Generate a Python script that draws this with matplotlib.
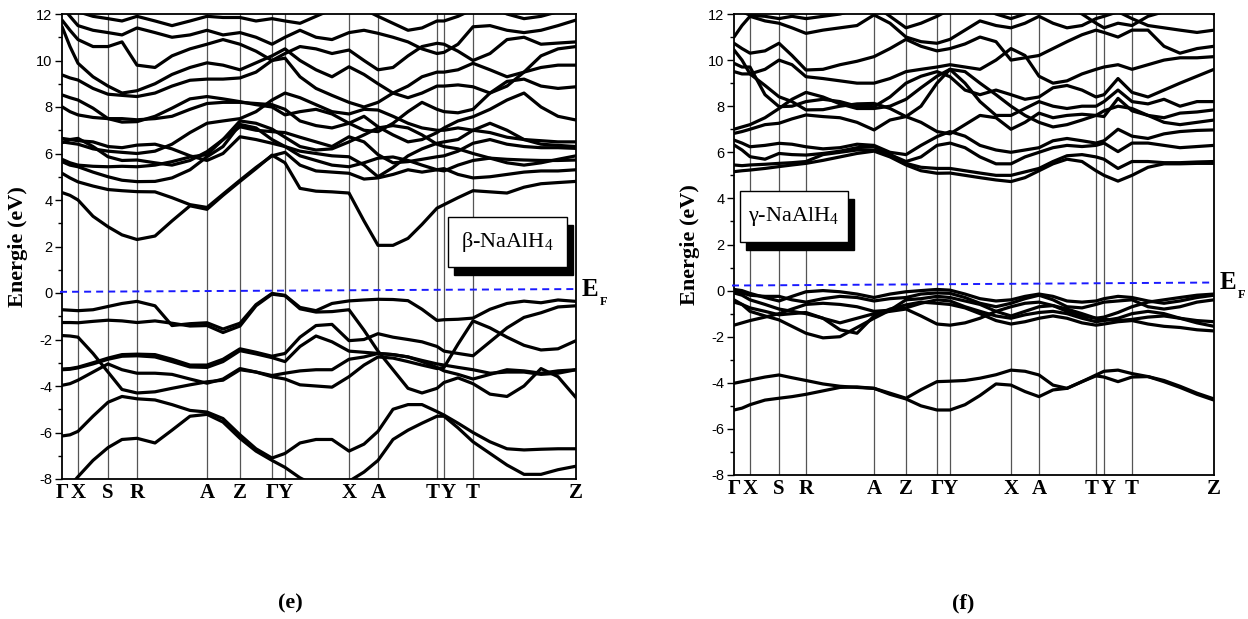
import matplotlib
matplotlib.use("Agg")
import matplotlib.pyplot as plt
from matplotlib.patches import Rectangle

plt.rcParams['mathtext.fontset'] = 'custom'
plt.rcParams['mathtext.rm'] = 'Liberation Serif'
plt.rcParams['mathtext.bf'] = 'Liberation Serif:bold'

SERIF = 'Liberation Serif'
SANS = 'Liberation Sans'

# ---------------- data ----------------
SYM_LABELS = ['Γ', 'X', 'S', 'R', 'A', 'Z', 'Γ', 'Y', 'X', 'A', 'T', 'Y', 'T', 'Z']

# beta panel: high-symmetry positions along k-path and sampling nodes
SYM_L = [0, 16, 46, 75, 145, 178, 210, 223, 287, 316, 375, 382, 411, 514]
K_L = [0, 8, 16, 31, 46, 60, 75, 93, 110, 128, 145, 161, 178, 194, 210, 223, 238, 254,
       270, 287, 302, 316, 331, 346, 360, 375, 382, 396, 411, 428, 445, 462, 479, 496, 514]
EF_L = [0.05, 0.17]

V1_L = [-0.72, -0.74, -0.76, -0.72, -0.58, -0.45, -0.36, -0.55, -1.4, -1.32, -1.28, -1.55, -1.3, -0.5, -0.02, -0.1, -0.62, -0.76, -0.45, -0.34, -0.3, -0.27, -0.28, -0.33, -0.7, -1.18, -1.15, -1.13, -1.08, -0.7, -0.45, -0.35, -0.42, -0.3, -0.36]
V2_L = [-1.27, -1.27, -1.28, -1.22, -1.17, -1.2, -1.27, -1.2, -1.3, -1.42, -1.4, -1.7, -1.42, -0.55, -0.05, -0.12, -0.68, -0.82, -0.8, -0.72, -1.6, -2.5, -3.3, -4.1, -4.3, -4.1, -3.85, -3.65, -3.9, -4.35, -4.45, -4.0, -3.25, -3.6, -4.5]
V3_L = [-1.83, -1.85, -1.9, -2.6, -3.4, -4.15, -4.3, -4.25, -4.1, -3.95, -3.82, -3.75, -3.3, -3.4, -3.6, -3.7, -3.95, -4.0, -4.05, -3.6, -3.1, -2.75, -2.8, -2.95, -3.1, -3.25, -3.2, -2.2, -1.2, -1.5, -1.9, -2.25, -2.45, -2.4, -2.05]
V4_L = [-3.27, -3.25, -3.19, -3.0, -2.8, -2.65, -2.63, -2.65, -2.85, -3.1, -3.1, -2.85, -2.4, -2.55, -2.72, -2.6, -1.9, -1.4, -1.35, -2.05, -2.0, -1.75, -1.9, -2.0, -2.1, -2.3, -2.5, -2.6, -2.7, -2.1, -1.5, -1.05, -0.85, -0.6, -0.55]
V5_L = [-3.97, -3.9, -3.75, -3.4, -3.05, -3.3, -3.45, -3.45, -3.5, -3.7, -3.88, -3.7, -3.25, -3.4, -3.55, -3.45, -3.35, -3.3, -3.3, -2.85, -2.75, -2.6, -2.65, -2.75, -2.95, -3.2, -3.35, -3.5, -3.7, -3.5, -3.3, -3.35, -3.45, -3.35, -3.3]
V6_L = [-6.15, -6.1, -5.95, -5.3, -4.7, -4.45, -4.55, -4.6, -4.8, -5.05, -5.12, -5.4, -6.1, -6.7, -7.1, -6.9, -6.45, -6.3, -6.3, -6.8, -6.5, -5.95, -5.0, -4.8, -4.8, -5.1, -5.25, -5.6, -6.0, -6.4, -6.7, -6.75, -6.72, -6.7, -6.7]
V7_L = [-8.6, -8.3, -7.9, -7.2, -6.65, -6.3, -6.25, -6.45, -5.9, -5.3, -5.22, -5.55, -6.25, -6.8, -7.2, -7.5, -7.95, -8.3, -8.4, -8.1, -7.7, -7.2, -6.3, -5.9, -5.6, -5.3, -5.3, -5.8, -6.4, -6.9, -7.4, -7.8, -7.8, -7.6, -7.45]
V8_L = [-3.3, -3.28, -3.22, -3.05, -2.85, -2.72, -2.7, -2.75, -2.95, -3.18, -3.2, -2.95, -2.48, -2.62, -2.78, -2.95, -2.3, -1.85, -2.1, -2.5, -2.55, -2.6, -2.65, -2.75, -2.9, -3.05, -3.1, -3.2, -3.3, -3.45, -3.4, -3.4, -3.5, -3.45, -3.3]

C1_L = [4.32, 4.2, 4.0, 3.3, 2.85, 2.5, 2.3, 2.45, 3.1, 3.75, 3.6, 4.2, 4.8, 5.35, 5.93, 5.6, 4.5, 4.38, 4.35, 4.3, 3.1, 2.05, 2.05, 2.35, 2.95, 3.65, 3.8, 4.1, 4.4, 4.35, 4.3, 4.55, 4.7, 4.75, 4.8]
C2_L = [5.15, 4.95, 4.78, 4.6, 4.45, 4.4, 4.36, 4.35, 4.1, 3.8, 3.68, 4.25, 4.85, 5.4, 5.9, 6.05, 5.5, 5.25, 5.2, 5.15, 4.9, 4.95, 5.1, 5.3, 5.2, 5.3, 5.35, 5.1, 4.95, 5.0, 5.1, 5.2, 5.25, 5.25, 5.3]
C3_L = [5.65, 5.5, 5.43, 5.2, 5.0, 4.85, 4.79, 4.8, 4.95, 5.3, 5.86, 6.3, 7.25, 7.1, 6.6, 6.3, 5.9, 5.7, 5.5, 5.43, 5.6, 5.8, 5.85, 5.7, 5.5, 5.3, 5.25, 5.5, 5.7, 5.8, 5.75, 5.72, 5.7, 5.7, 5.72]
C4_L = [6.46, 6.6, 6.65, 6.3, 5.86, 5.7, 5.72, 5.6, 5.5, 5.7, 6.08, 6.6, 7.15, 7.0, 6.94, 6.9, 6.7, 6.5, 6.3, 6.72, 6.5, 5.95, 5.6, 5.65, 5.75, 5.86, 5.9, 6.1, 6.44, 6.6, 6.4, 6.3, 6.25, 6.25, 6.22]
C5_L = [6.65, 6.6, 6.55, 6.5, 6.3, 6.25, 6.36, 6.4, 6.2, 5.9, 5.7, 6.0, 6.72, 6.6, 6.44, 6.3, 6.1, 6.0, 5.9, 5.86, 5.5, 5.0, 5.4, 5.9, 6.2, 6.44, 6.5, 6.6, 7.0, 7.3, 7.0, 6.6, 6.4, 6.35, 6.3]
C6_L = [8.01, 7.8, 7.66, 7.55, 7.5, 7.5, 7.45, 7.5, 7.6, 7.9, 8.15, 8.2, 8.2, 8.15, 8.1, 7.9, 7.4, 7.2, 7.1, 7.3, 7.6, 7.15, 6.8, 6.5, 6.6, 6.9, 7.1, 7.4, 7.58, 7.9, 8.3, 8.6, 8.0, 7.6, 7.44]
C7_L = [8.52, 8.4, 8.3, 7.95, 7.5, 7.35, 7.37, 7.6, 7.95, 8.35, 8.45, 8.35, 8.23, 8.1, 8.0, 7.66, 7.8, 7.9, 7.7, 7.3, 7.0, 6.94, 7.3, 7.8, 8.2, 7.9, 7.8, 7.75, 7.9, 8.6, 9.1, 9.2, 8.9, 8.8, 8.87]
C8_L = [9.38, 9.25, 9.16, 8.8, 8.55, 8.5, 8.45, 8.6, 8.9, 9.15, 9.2, 9.2, 9.25, 9.5, 10.0, 10.1, 9.3, 8.8, 8.5, 8.2, 8.0, 8.2, 8.6, 8.9, 9.3, 9.5, 9.5, 9.6, 9.88, 9.6, 9.3, 9.5, 9.7, 9.8, 9.8]
C9_L = [11.46, 10.6, 9.88, 9.3, 8.9, 8.6, 8.7, 9.0, 9.4, 9.7, 9.9, 9.8, 9.6, 9.9, 10.2, 10.5, 10.0, 9.6, 9.3, 9.73, 9.4, 9.0, 8.6, 8.4, 8.6, 8.9, 8.9, 8.95, 8.87, 8.6, 8.9, 9.5, 10.2, 10.5, 10.6]
C10_L = [11.74, 11.3, 10.9, 10.6, 10.6, 10.8, 9.8, 9.7, 10.2, 10.5, 10.7, 10.9, 10.7, 10.4, 10.0, 10.3, 10.6, 10.5, 10.3, 10.45, 10.0, 9.6, 9.7, 10.2, 10.6, 10.74, 10.7, 10.4, 10.0, 10.3, 10.9, 11.0, 10.7, 10.75, 10.8]
C11_L = [12.3, 11.9, 11.5, 11.3, 11.2, 11.1, 11.4, 11.2, 11.0, 11.1, 11.3, 11.1, 11.2, 11.0, 10.7, 11.0, 11.3, 11.0, 10.9, 11.2, 11.3, 11.17, 11.0, 10.8, 10.5, 10.3, 10.35, 10.7, 11.45, 11.5, 11.3, 11.2, 11.3, 11.5, 11.74]
C12_L = [12.6, 12.4, 12.1, 11.9, 11.8, 11.7, 11.9, 11.7, 11.5, 11.7, 11.9, 11.85, 11.85, 11.7, 11.8, 11.7, 11.6, 11.9, 12.2, 12.4, 12.2, 11.9, 11.6, 11.3, 11.4, 11.7, 11.7, 11.9, 12.2, 12.3, 12.0, 11.8, 11.9, 12.1, 12.2]
C13_L = [5.75, 5.6, 5.5, 5.45, 5.43, 5.45, 5.43, 5.5, 5.65, 5.85, 5.95, 6.6, 7.4, 7.3, 7.05, 6.7, 6.3, 6.15, 6.2, 6.5, 6.8, 7.1, 7.2, 7.1, 6.8, 6.4, 6.3, 6.2, 6.0, 5.8, 5.6, 5.5, 5.6, 5.75, 5.9]
C14_L = [6.5, 6.45, 6.4, 6.2, 6.1, 6.05, 6.0, 6.1, 6.4, 6.9, 7.3, 7.4, 7.5, 7.8, 8.3, 8.6, 8.4, 8.1, 7.8, 7.7, 7.9, 7.87, 7.6, 7.3, 7.1, 7.0, 7.0, 7.1, 7.0, 6.9, 6.7, 6.6, 6.55, 6.5, 6.5]

# gamma panel
SYM_R = [0, 16, 45, 72, 140, 172, 203, 216, 277, 305, 362, 370, 398, 480]
K_R = [0, 8, 16, 31, 45, 58, 72, 89, 106, 123, 140, 156, 172, 187, 203, 216, 231, 246,
       262, 277, 291, 305, 319, 333, 348, 362, 370, 384, 398, 414, 430, 446, 463, 480]
EF_R = [0.22, 0.35]

V1_R = [0.05, 0.0, -0.12, -0.3, -0.45, -0.25, -0.05, 0.0, -0.05, -0.15, -0.3, -0.15, -0.05, 0.0, 0.05, 0.02, -0.15, -0.35, -0.45, -0.4, -0.25, -0.15, -0.25, -0.45, -0.5, -0.45, -0.35, -0.25, -0.3, -0.45, -0.55, -0.45, -0.3, -0.2]
V2_R = [-0.05, -0.1, -0.2, -0.25, -0.25, -0.4, -0.5, -0.35, -0.25, -0.3, -0.45, -0.35, -0.3, -0.15, -0.1, -0.12, -0.3, -0.55, -0.7, -0.55, -0.35, -0.2, -0.4, -0.7, -0.75, -0.6, -0.5, -0.45, -0.4, -0.7, -0.8, -0.7, -0.5, -0.4]
V3_R = [-0.4, -0.6, -0.9, -1.1, -1.27, -1.55, -1.85, -2.05, -2.0, -1.6, -1.2, -0.85, -0.75, -0.55, -0.4, -0.45, -0.7, -0.9, -1.1, -1.2, -1.05, -0.95, -0.9, -1.0, -1.2, -1.35, -1.3, -1.2, -1.0, -0.9, -1.0, -1.2, -1.3, -1.35]
V4_R = [-0.5, -0.6, -0.75, -0.9, -1.05, -1.0, -0.95, -1.2, -1.7, -1.85, -1.1, -0.8, -0.62, -0.5, -0.55, -0.6, -0.75, -1.0, -1.3, -1.45, -1.35, -1.2, -1.1, -1.2, -1.4, -1.5, -1.45, -1.35, -1.3, -1.45, -1.55, -1.6, -1.7, -1.75]
V5_R = [-1.5, -1.4, -1.3, -1.15, -1.0, -0.8, -0.6, -0.55, -0.6, -0.7, -0.9, -0.85, -0.4, -0.35, -0.25, -0.3, -0.45, -0.6, -0.9, -1.1, -0.9, -0.7, -0.65, -0.8, -1.0, -1.2, -1.25, -1.3, -1.25, -1.15, -1.1, -1.2, -1.4, -1.55]
V6_R = [-0.1, -0.2, -0.4, -0.6, -0.8, -0.9, -1.0, -1.2, -1.4, -1.2, -1.0, -0.9, -0.8, -1.1, -1.45, -1.5, -1.4, -1.2, -0.9, -0.7, -0.55, -0.5, -0.65, -0.9, -1.1, -1.2, -1.15, -0.95, -0.7, -0.5, -0.4, -0.3, -0.2, -0.15]
V7_R = [-4.02, -3.95, -3.88, -3.75, -3.66, -3.78, -3.9, -4.05, -4.15, -4.2, -4.24, -4.45, -4.67, -4.3, -3.95, -3.93, -3.9, -3.8, -3.65, -3.45, -3.5, -3.66, -4.1, -4.24, -3.95, -3.66, -3.5, -3.45, -3.6, -3.73, -3.9, -4.15, -4.45, -4.7]
V8_R = [-5.18, -5.1, -4.95, -4.75, -4.67, -4.6, -4.5, -4.35, -4.2, -4.18, -4.24, -4.5, -4.7, -5.0, -5.18, -5.18, -4.95, -4.55, -4.05, -4.1, -4.38, -4.6, -4.31, -4.24, -3.95, -3.7, -3.75, -3.95, -3.75, -3.73, -3.95, -4.2, -4.5, -4.75]

C1_R = [5.16, 5.2, 5.23, 5.3, 5.38, 5.45, 5.52, 5.65, 5.8, 5.95, 6.05, 5.8, 5.45, 5.2, 5.09, 5.1, 5.0, 4.9, 4.8, 4.73, 4.9, 5.2, 5.5, 5.7, 5.6, 5.2, 5.0, 4.75, 5.0, 5.35, 5.5, 5.5, 5.52, 5.52]
C2_R = [5.45, 5.42, 5.45, 5.48, 5.52, 5.55, 5.6, 5.9, 6.0, 6.1, 6.1, 5.9, 5.52, 5.35, 5.3, 5.3, 5.2, 5.1, 5.0, 5.0, 5.15, 5.3, 5.6, 5.85, 5.9, 5.8, 5.7, 5.3, 5.6, 5.6, 5.55, 5.55, 5.58, 5.6]
C3_R = [6.32, 6.1, 5.81, 5.7, 5.95, 5.9, 5.88, 5.95, 6.05, 6.2, 6.25, 5.9, 5.6, 5.8, 6.3, 6.4, 6.2, 5.8, 5.5, 5.5, 5.8, 6.0, 6.2, 6.3, 6.25, 6.3, 6.4, 6.03, 6.4, 6.4, 6.3, 6.2, 6.25, 6.3]
C4_R = [6.53, 6.4, 6.24, 6.3, 6.39, 6.35, 6.24, 6.15, 6.2, 6.35, 6.3, 6.0, 5.9, 6.3, 6.68, 6.9, 6.7, 6.3, 6.1, 6.0, 6.1, 6.2, 6.5, 6.6, 6.5, 6.4, 6.5, 7.0, 6.7, 6.6, 6.8, 6.9, 6.95, 6.97]
C5_R = [6.82, 6.9, 7.0, 7.2, 7.26, 7.45, 7.62, 7.55, 7.5, 7.3, 6.97, 7.4, 7.55, 7.3, 6.9, 6.8, 7.2, 7.6, 7.5, 7.0, 7.3, 7.7, 7.5, 7.6, 7.65, 7.6, 7.55, 8.34, 7.8, 7.6, 7.5, 7.7, 7.75, 7.84]
C6_R = [9.5, 9.4, 9.4, 8.9, 8.41, 8.2, 7.84, 7.85, 8.0, 8.1, 8.12, 7.9, 7.55, 8.0, 9.0, 9.6, 9.0, 8.2, 7.6, 7.6, 7.9, 8.2, 8.0, 7.9, 8.0, 8.0, 8.2, 8.7, 8.2, 8.1, 8.3, 8.0, 8.2, 8.2]
C7_R = [9.86, 9.7, 9.7, 8.5, 7.98, 8.0, 8.2, 8.3, 8.2, 8.0, 7.98, 8.4, 9.0, 9.3, 9.5, 9.28, 8.7, 8.5, 8.7, 8.5, 8.3, 8.4, 8.8, 8.9, 8.7, 8.4, 8.5, 9.2, 8.6, 8.4, 8.7, 9.0, 9.3, 9.6]
C8_R = [10.44, 10.0, 9.4, 9.6, 10.0, 9.8, 9.28, 9.2, 9.1, 9.0, 9.0, 9.2, 9.5, 9.6, 9.7, 9.8, 9.7, 9.6, 10.0, 10.5, 10.2, 9.3, 9.0, 9.1, 9.4, 9.6, 9.7, 9.8, 9.6, 9.8, 10.0, 10.1, 10.1, 10.15]
C9_R = [10.73, 10.5, 10.3, 10.4, 10.73, 10.2, 9.57, 9.6, 9.8, 9.95, 10.15, 10.5, 10.9, 10.6, 10.4, 10.5, 10.7, 11.0, 10.8, 10.0, 10.1, 10.2, 10.5, 10.8, 11.1, 11.3, 11.2, 11.0, 11.3, 11.3, 10.6, 10.3, 10.5, 10.6]
C10_R = [11.0, 11.5, 11.9, 11.7, 11.6, 11.4, 11.16, 11.3, 11.4, 11.5, 11.96, 11.6, 11.0, 10.8, 10.73, 10.9, 11.3, 11.7, 11.5, 11.4, 11.6, 11.9, 11.6, 11.4, 11.5, 11.8, 11.9, 12.1, 11.8, 11.5, 11.4, 11.3, 11.2, 11.3]
C11_R = [12.3, 12.1, 11.95, 11.9, 11.8, 11.9, 11.8, 11.9, 12.0, 12.2, 12.4, 11.9, 11.4, 11.6, 11.9, 12.2, 12.4, 12.3, 12.0, 11.8, 12.0, 12.3, 12.5, 12.3, 12.0, 11.6, 11.4, 11.6, 11.5, 11.9, 12.1, 12.2, 12.3, 12.0]
C12_R = [7.0, 7.1, 7.2, 7.5, 7.9, 8.3, 8.6, 8.4, 8.1, 7.9, 7.9, 8.0, 8.3, 8.8, 9.3, 9.6, 9.5, 9.0, 8.5, 8.0, 7.6, 7.3, 7.1, 7.2, 7.4, 7.6, 7.8, 8.0, 7.9, 7.6, 7.3, 7.2, 7.3, 7.4]

BANDS_L = [V1_L, V2_L, V3_L, V4_L, V5_L, V6_L, V7_L, V8_L,
           C1_L, C2_L, C3_L, C4_L, C5_L, C6_L, C7_L, C8_L, C9_L, C10_L, C11_L, C12_L, C13_L, C14_L]
BANDS_R = [V1_R, V2_R, V3_R, V4_R, V5_R, V6_R, V7_R, V8_R,
           C1_R, C2_R, C3_R, C4_R, C5_R, C6_R, C7_R, C8_R, C9_R, C10_R, C11_R, C12_R]

PHASES = ['β-NaAlH', 'γ-NaAlH']
CAPTIONS = ['(e)', '(f)']

# ---------------- figure ----------------
W, H = 1248, 619
fig = plt.figure(figsize=(W / 100, H / 100), dpi=100)


def fx(px):
    return px / W


def fy(py):
    return 1 - py / H


def make_panel(left, right, top, bottom, K, SYM, bands, ef, phase, box, caption, cap_x):
    ax = fig.add_axes([fx(left), fy(bottom), fx(right - left), (bottom - top) / H])
    xmax = SYM[-1]
    ax.set_xlim(0, xmax)
    ax.set_ylim(-8, 12)
    for s in SYM[1:-1]:
        ax.axvline(s, color='#555555', lw=0.9, zorder=1)
    for b in bands:
        ax.plot(K, b, color='black', lw=2.3, solid_joinstyle='round',
                solid_capstyle='round', zorder=3)
    ln, = ax.plot([-2, xmax], ef, color='#1a1aff', lw=1.4, zorder=4, clip_on=False)
    ln.set_dashes([3.6, 2.6])
    ax.set_yticks(range(-8, 13, 2))
    ax.set_yticks(range(-7, 12, 2), minor=True)
    ax.set_yticklabels([str(v) for v in range(-8, 13, 2)], fontfamily=SANS, fontsize=10.5)
    ax.tick_params(axis='y', which='major', direction='out', length=5, width=1.0, pad=2)
    ax.tick_params(axis='y', which='minor', direction='out', length=3, width=1.0)
    ax.set_xticks([])
    # k-point labels (nudge apart labels whose lines are very close)
    px_per_unit = (right - left) / xmax
    for i, (s, lab) in enumerate(zip(SYM, SYM_LABELS)):
        dx = 0.0
        if i + 1 < len(SYM) and (SYM[i + 1] - s) * px_per_unit < 10:
            dx = -3.0
        if i > 0 and (s - SYM[i - 1]) * px_per_unit < 10:
            dx = 3.0
        ax.annotate(lab, xy=(s, 0), xycoords=('data', 'axes fraction'),
                    xytext=(dx, -3), textcoords='offset points',
                    fontfamily=SERIF, fontweight='bold', fontsize=15,
                    ha='center', va='top', annotation_clip=False)
    for sp in ax.spines.values():
        sp.set_linewidth(1.3)
    ax.set_ylabel('Energie (eV)', fontfamily=SERIF, fontweight='bold', fontsize=16, labelpad=6)

    # E_F label
    ey = ef[1]
    ax.annotate('E', xy=(xmax, ey), xycoords='data', xytext=(4, 0), textcoords='offset points',
                fontfamily=SERIF, fontweight='bold', fontsize=18, va='center', ha='left',
                annotation_clip=False)
    ax.annotate('F', xy=(xmax, ey), xycoords='data', xytext=(17, -9), textcoords='offset points',
                fontfamily=SERIF, fontweight='bold', fontsize=9, va='center', ha='left',
                annotation_clip=False)

    # phase label box with shadow
    bx0, by0, bx1, by1 = box
    fig.patches.append(Rectangle((fx(bx0 + 6), fy(by1 + 8)), fx(bx1 - bx0), (by1 - by0) / H,
                                 transform=fig.transFigure, facecolor='black',
                                 edgecolor='black', zorder=5))
    fig.patches.append(Rectangle((fx(bx0), fy(by1)), fx(bx1 - bx0), (by1 - by0) / H,
                                 transform=fig.transFigure, facecolor='white',
                                 edgecolor='black', lw=1.0, zorder=6))
    fig.text(fx((bx0 + bx1) / 2), fy((by0 + by1) / 2), phase + '$_{4}$',
             fontfamily=SERIF, fontsize=16, ha='center', va='center', zorder=7)

    fig.text(fx(cap_x), fy(603), caption, fontfamily=SERIF, fontweight='bold',
             fontsize=16, ha='center', va='center')
    return ax


make_panel(62, 576, 14, 479, K_L, SYM_L, BANDS_L, EF_L, PHASES[0],
           (448, 217, 567, 267), CAPTIONS[0], 290)
make_panel(734, 1214, 14, 475, K_R, SYM_R, BANDS_R, EF_R, PHASES[1],
           (740, 191, 848, 242), CAPTIONS[1], 963)

fig.savefig('out.png', dpi=100)
